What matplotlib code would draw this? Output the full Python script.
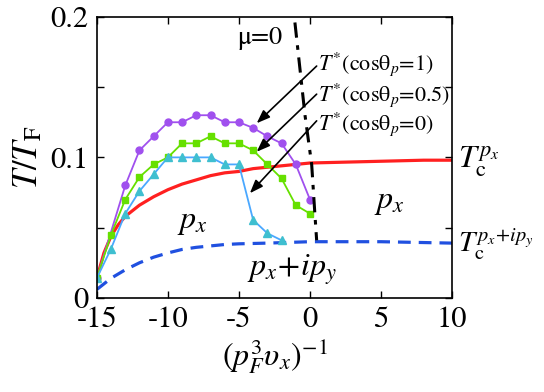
import matplotlib
matplotlib.use("Agg")
import matplotlib.pyplot as plt

plt.rcParams["font.family"] = ["STIXGeneral", "Liberation Serif", "DejaVu Serif"]
plt.rcParams["mathtext.fontset"] = "stix"

# T* curves (cos theta_p = 1, 0.5, 0)
x_c1 = [-15, -13, -12, -11, -10, -9, -8, -7, -6, -5, -4, -3, -2, -1, 0]
y_c1 = [0.014, 0.080, 0.105, 0.115, 0.125, 0.125, 0.130, 0.130, 0.125, 0.125,
        0.121, 0.115, 0.110, 0.095, 0.070]
x_c05 = [-15, -14, -13, -12, -11, -10, -9, -8, -7, -6, -5, -4, -3, -2, -1, 0]
y_c05 = [0.014, 0.045, 0.070, 0.086, 0.095, 0.100, 0.110, 0.110, 0.115, 0.110,
         0.110, 0.105, 0.095, 0.085, 0.066, 0.060]
x_c0 = [-15, -14, -13, -12, -11, -10, -9, -8, -7, -6, -5, -4, -3, -2]
y_c0 = [0.014, 0.035, 0.060, 0.076, 0.088, 0.100, 0.100, 0.100, 0.100, 0.095,
        0.095, 0.0555, 0.046, 0.041]

# Tc of p_x (red) and p_x+ip_y (blue dashed)
x_px = [-15, -14.5, -14, -13.5, -13, -12, -11, -10, -9, -8, -7, -6, -5, -4,
        -3, -2, -1, 0, 2, 4, 6, 8, 10]
y_px = [0.014, 0.032, 0.044, 0.052, 0.058, 0.066, 0.072, 0.077, 0.081, 0.084,
        0.087, 0.089, 0.090, 0.092, 0.093, 0.094, 0.095, 0.096, 0.0965, 0.097,
        0.0975, 0.098, 0.098]
x_pxipy = [-15, -14, -13, -12, -11, -10, -9, -8, -7, -6, -5, -3, 0, 5, 10]
y_pxipy = [0.006, 0.014, 0.020, 0.025, 0.029, 0.032, 0.0345, 0.036, 0.037,
           0.038, 0.0385, 0.039, 0.040, 0.040, 0.039]

# mu = 0 line
x_mu = [-1.06, -0.35, 0.12, 0.35, 0.47]
y_mu = [0.196, 0.130, 0.095, 0.059, 0.041]

fig = plt.figure(figsize=(5.44, 3.92), dpi=100)
ax = fig.add_axes([0.178, 0.240, 0.653, 0.717])

ax.plot(x_px, y_px, color="#ff2020", lw=2.3)
ax.plot(x_pxipy, y_pxipy, color="#2050e0", lw=2.3, dashes=(4, 2.5))
ax.plot(x_c1, y_c1, color="#a050ee", lw=1.3, marker="o", ms=5)
ax.plot(x_c05, y_c05, color="#66e000", lw=1.3, marker="s", ms=5)
ax.plot(x_c0, y_c0, color="#4aa8ff", lw=1.3, marker="^", ms=6,
        mfc="#3fbfd0", mec="#3fbfd0")
ax.plot(x_mu, y_mu, color="black", lw=2.2, dashes=(5, 2.5, 1.5, 2.5))

arrow = dict(arrowstyle="-|>,head_length=0.8,head_width=0.3", color="black",
             lw=1.2, shrinkA=0, shrinkB=0)
ax.annotate("", xy=(-3.75, 0.1243), xytext=(0.47, 0.165), arrowprops=arrow)
ax.annotate("", xy=(-3.75, 0.104), xytext=(0.47, 0.145), arrowprops=arrow)
ax.annotate("", xy=(-4.23, 0.0745), xytext=(0.47, 0.126), arrowprops=arrow)

fs_ann = 16
ax.text(0.56, 0.166, r"$T^{*}$(cosθ$_p$=1)", fontsize=fs_ann, va="center")
ax.text(0.56, 0.1445, r"$T^{*}$(cosθ$_p$=0.5)", fontsize=fs_ann, va="center")
ax.text(0.56, 0.124, r"$T^{*}$(cosθ$_p$=0)", fontsize=fs_ann, va="center")
ax.text(-3.5, 0.185, "μ=0", fontsize=19, ha="center", va="center")

ax.text(-8.3, 0.054, r"$p_x$", fontsize=23, ha="center", va="center")
ax.text(5.6, 0.068, r"$p_x$", fontsize=23, ha="center", va="center")
ax.text(-1.3, 0.020, r"$p_x\!+\!ip_y$", fontsize=23, ha="center", va="center")

ax.text(10.4, 0.097, r"$T_{\mathrm{c}}^{p_x}$", fontsize=23, va="center",
        clip_on=False)
ax.text(10.4, 0.038, r"$T_{\mathrm{c}}^{p_x\!+\!ip_y}$", fontsize=21,
        va="center", clip_on=False)

ax.set_xlim(-15, 10)
ax.set_ylim(0, 0.2)
ax.set_xticks([-15, -10, -5, 0, 5, 10])
ax.set_xticklabels(["-15", "-10", "-5", "0", "5", "10"])
ax.set_yticks([0, 0.05, 0.1, 0.15, 0.2])
ax.set_yticklabels(["0", "", "0.1", "", "0.2"])
ax.tick_params(direction="in", top=True, right=True, length=5, width=1,
               labelsize=22, pad=6)
for s in ax.spines.values():
    s.set_linewidth(1.2)

ax.set_xlabel(r"$(p_F^3\upsilon_x)^{\mathrm{-1}}$", fontsize=23, labelpad=2)
ax.set_ylabel(r"$T/T_{\mathrm{F}}$", fontsize=25, labelpad=4)

fig.savefig("out.png", dpi=100)
